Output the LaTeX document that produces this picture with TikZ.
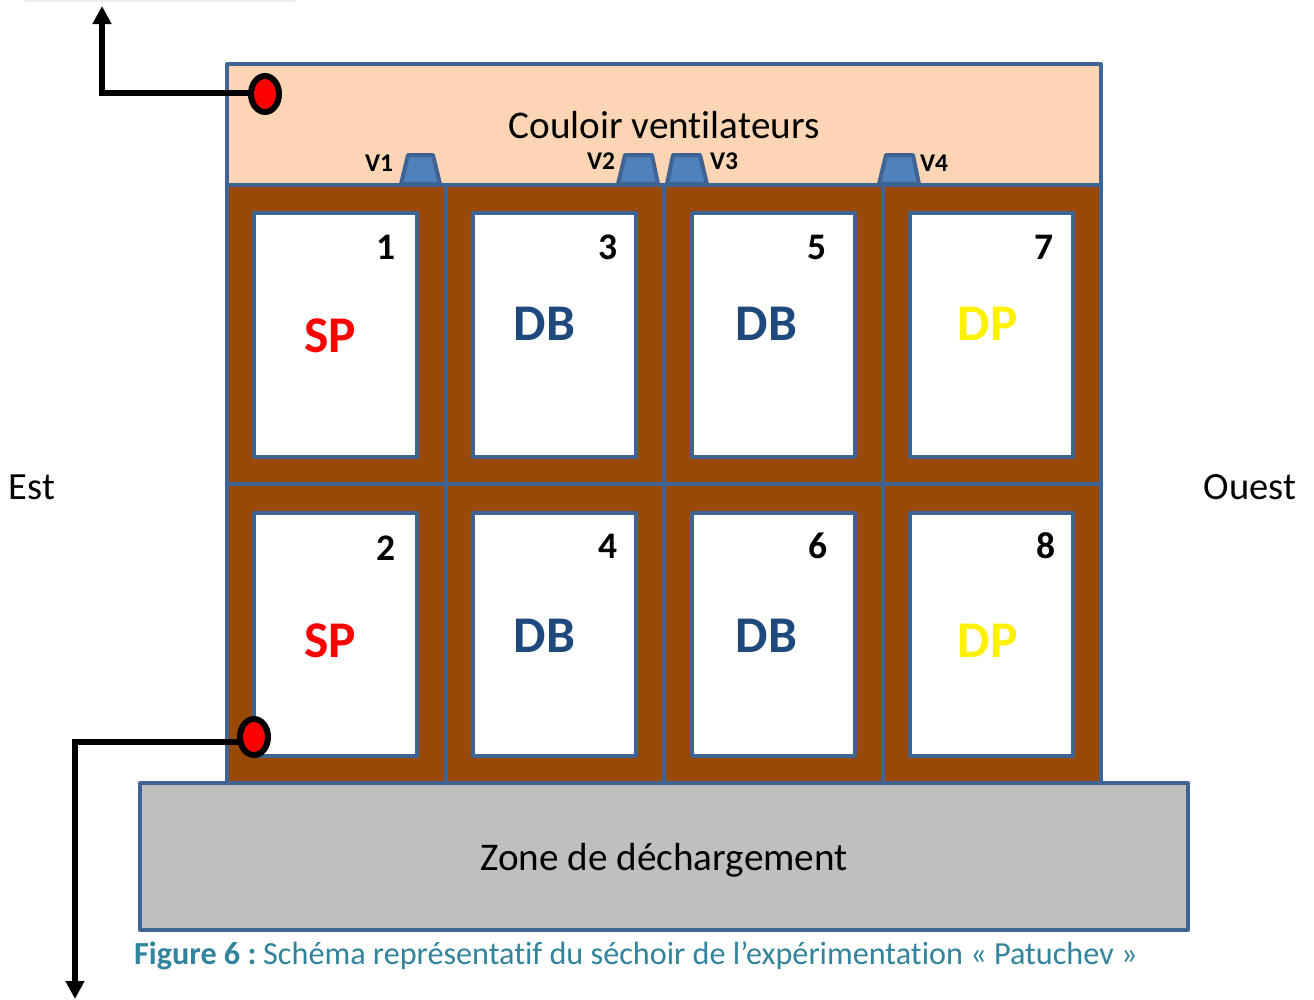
\documentclass[tikz,border=0pt]{standalone}
\usepackage{fontspec}
\setmainfont[Ligatures=NoCommon]{Carlito}
\usetikzlibrary{arrows.meta,shapes.geometric}
\definecolor{edgeblue}{HTML}{3F6493}
\definecolor{peach}{HTML}{FCD5B5}
\definecolor{kiln}{HTML}{984807}
\definecolor{zonegrey}{HTML}{BFBFBF}
\definecolor{fanblue}{HTML}{4F81BD}
\definecolor{dbblue}{HTML}{1F497D}
\definecolor{capteal}{HTML}{31849B}
\tikzset{
  panel/.style={draw=edgeblue,line width=4pt,line join=round,minimum width=0pt},
  cellbox/.style={panel,fill=kiln},
  chamber/.style={panel,fill=white},
  fanpoly/.style={panel,fill=fanblue},
  sensordot/.style={ellipse,draw=black,fill=red,line width=6pt,minimum width=28pt,minimum height=36pt,inner sep=0pt},
  pipe/.style={draw=black,line width=5.5pt,line join=miter,-{Triangle[width=18pt,length=18pt]}},
  numlabel/.style={font=\fontsize{37.5}{37.5}\selectfont\bfseries,text=black,inner sep=0pt},
  kindlabel/.style={font=\fontsize{51.5}{51.5}\selectfont\bfseries,inner sep=0pt},
  fanlabel/.style={font=\fontsize{25.5}{25.5}\selectfont\bfseries,text=black,inner sep=0pt},
  bigtext/.style={font=\fontsize{39.2}{39.2}\selectfont,text=black,inner sep=0pt},
  sidetext/.style={font=\fontsize{38.5}{38.5}\selectfont,text=black,inner sep=0pt},
}
\begin{document}
\begin{tikzpicture}[x=1pt,y=-1pt]
\useasboundingbox (0,0) rectangle (1314,999);
% faint scan smudge along the top edge
\fill[black!7] (25,0) rectangle (295,2);
% corridor
\draw[panel,fill=peach] (227,64) rectangle (1101,185);
% cells
\foreach \xa/\xb in {227/446,446/664,664/882.5,882.5/1101}{
  \foreach \ya/\yb in {185/484,484/783}{
    \draw[cellbox] (\xa,\ya) rectangle (\xb,\yb);
  }
}
% chambers
\foreach \xa/\xb in {254/417,473/636,692/855,910/1073}{
  \draw[chamber] (\xa,213) rectangle (\xb,457);
  \draw[chamber] (\xa,513) rectangle (\xb,756);
}
% fans
\foreach \xa/\xb/\xc/\xd in {401/408/433/440,618/625/652/658,667/673/700/707,879/886/913/919}{
  \draw[fanpoly] (\xa,184) -- (\xb,155) -- (\xc,155) -- (\xd,184) -- cycle;
}
% unloading zone
\node[panel,fill=zonegrey,minimum width=1048pt,minimum height=147pt,inner sep=0pt,anchor=north west] (zone) at (138,781) {};
\node[bigtext] (zonetxt) at (664,860) {Zone de déchargement};
\node[bigtext] (couloir) at (664,125) {Couloir ventilateurs};
% fan labels
\node[fanlabel] (v1) at (379,163) {V1};
\node[fanlabel] (v2) at (601,161) {V2};
\node[fanlabel] (v3) at (724,161) {V3};
\node[fanlabel] (v4) at (934,163) {V4};
% numbers
\node[numlabel] (n1) at (386,247) {1};
\node[numlabel] (n3) at (608,247) {3};
\node[numlabel] (n5) at (817,247) {5};
\node[numlabel] (n7) at (1044,247) {7};
\node[numlabel] (n2) at (386,548) {2};
\node[numlabel] (n4) at (608,546) {4};
\node[numlabel] (n6) at (818,546) {6};
\node[numlabel] (n8) at (1046,546) {8};
% kinds
\node[kindlabel,text=red] (k1) at (330,336) {SP};
\node[kindlabel,text=red] (k2) at (330,641) {SP};
\node[kindlabel,text=dbblue] (k3) at (544.5,324) {DB};
\node[kindlabel,text=dbblue] (k5) at (766.5,324) {DB};
\node[kindlabel,text=dbblue] (k4) at (544.5,636) {DB};
\node[kindlabel,text=dbblue] (k6) at (766.5,636) {DB};
\node[kindlabel,text=yellow] (k7) at (987.5,324) {DP};
\node[kindlabel,text=yellow] (k8) at (987.5,641) {DP};
% sides
\node[sidetext] (est) at (32,487) {Est};
\node[sidetext] (ouest) at (1250,487) {Ouest};
% caption
\node[font=\fontsize{32.2}{32.2}\selectfont,text=capteal,inner sep=0pt,anchor=base west] (cap) at (134,964.5) {\textbf{Figure 6 :}\hspace{-3pt} Schéma représentatif du séchoir de l’expérimentation « Patuchev »};
% sensors and pipes
\node[sensordot] (dota) at (265,94) {};
\node[sensordot] (dotb) at (254,737) {};
\coordinate (elbowa) at (102,93);
\coordinate (enda) at (102,6);
\coordinate (elbowb) at (75,742);
\coordinate (endb) at (75,999);
\draw[pipe] ([xshift=2pt]dota.west |- elbowa) -- (elbowa) -- (enda);
\draw[pipe] ([xshift=3pt]dotb.west |- elbowb) -- (elbowb) -- (endb);
\end{tikzpicture}
\end{document}
